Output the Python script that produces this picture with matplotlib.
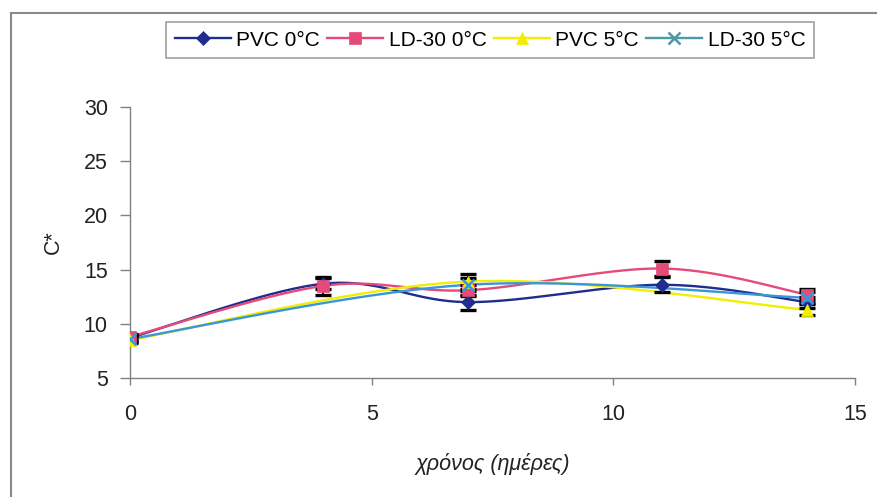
import numpy as np
import matplotlib
matplotlib.use("Agg")
import matplotlib.pyplot as plt
from matplotlib.lines import Line2D

# ---- data ----
days_a = [0, 4, 7, 11, 14]
days_b = [0, 7, 14]
pvc0 = [8.7, 13.7, 12.0, 13.6, 12.0]
pvc0_err = [0.3, 0.5, 0.7, 0.7, 0.5]
ld0 = [8.8, 13.5, 13.1, 15.1, 12.7]
ld0_err = [0.3, 0.8, 0.5, 0.7, 0.5]
pvc5 = [8.5, 13.9, 11.3]
pvc5_err = [0.3, 0.7, 0.5]
ld5 = [8.6, 13.6, 12.4]
ld5_err = [0.3, 0.6, 0.5]
labels = ["PVC 0\u00b0C", "LD-30 0\u00b0C", "PVC 5\u00b0C", "LD-30 5\u00b0C"]
xticks = [0, 5, 10, 15]
yticks = [5, 10, 15, 20, 25, 30]

plt.rcParams['font.family'] = ['Liberation Sans', 'DejaVu Sans']


def smooth(x, y, n=40):
    """Excel-style smoothed line (Bezier through the points)."""
    x = np.asarray(x, float); y = np.asarray(y, float)
    P = np.column_stack([x, y])
    out = []
    for i in range(len(P) - 1):
        p0 = P[i - 1] if i > 0 else P[i]
        p1 = P[i]; p2 = P[i + 1]
        p3 = P[i + 2] if i + 2 < len(P) else P[i + 1]
        c1 = p1 + (p2 - p0) / 6.0
        c2 = p2 - (p3 - p1) / 6.0
        t = np.linspace(0, 1, n)[:, None]
        seg = ((1 - t) ** 3) * p1 + 3 * ((1 - t) ** 2) * t * c1 + 3 * (1 - t) * t ** 2 * c2 + t ** 3 * p2
        out.append(seg if i == 0 else seg[1:])
    s = np.vstack(out)
    return s[:, 0], s[:, 1]


fig = plt.figure(figsize=(8.77, 4.97), dpi=100)
ax = fig.add_axes([130 / 877, 1 - 378 / 497, (855 - 130) / 877, (378 - 107) / 497])

series = [
    (days_a, pvc0, pvc0_err, '#1f2d8c', 'D', 7),
    (days_a, ld0, ld0_err, '#e64a7b', 's', 8.5),
    (days_b, pvc5, pvc5_err, '#f2ee00', '^', 9),
    (days_b, ld5, ld5_err, '#3a96d8', 'x', 9),
]
handles = []
for (x, y, e, c, m, ms), lab in zip(series, labels):
    sx, sy = smooth(x, y)
    ax.plot(sx, sy, color=c, lw=1.7, zorder=2)
    ax.errorbar(x, y, yerr=e, fmt='none', ecolor='black', elinewidth=1.2,
                capsize=5.5, capthick=2.4, zorder=3)
    mew = 1.8 if m == 'x' else 0.5
    ax.plot(x, y, linestyle='none', marker=m, color=c, markersize=ms,
            markeredgewidth=mew, zorder=4)
    lc = '#4a9aa8' if m == 'x' else c
    handles.append(Line2D([], [], color=lc, lw=1.7, marker=m, markersize=ms,
                          markeredgewidth=mew))

ax.set_xlim(0, 15)
ax.set_ylim(5, 30)
ax.set_xticks(xticks)
ax.set_yticks(yticks)
for s in ['top', 'right']:
    ax.spines[s].set_visible(False)
for s in ['left', 'bottom']:
    ax.spines[s].set_color('#808080')
    ax.spines[s].set_linewidth(1.0)
ax.tick_params(axis='y', direction='out', length=7, width=1, color='#808080',
               pad=9, labelsize=15.5, labelcolor='#222222')
ax.tick_params(axis='x', direction='out', length=5, width=1, color='#808080',
               pad=14, labelsize=15.5, labelcolor='#222222')
ax.set_ylabel('C*', fontsize=15.5, color='#222222', labelpad=14)
ax.set_xlabel('\u03c7\u03c1\u03cc\u03bd\u03bf\u03c2 (\u03b7\u03bc\u03ad\u03c1\u03b5\u03c2)',
              fontsize=15.5, style='italic', color='#222222', labelpad=20)

leg = fig.legend(handles, labels, ncol=4, loc='center',
                 bbox_to_anchor=((165 + 815) / 2 / 877, 1 - 40 / 497),
                 fontsize=15, frameon=True, fancybox=False, handlelength=2.7,
                 handletextpad=0.25, columnspacing=0.35, borderpad=0.4,
                 borderaxespad=0.2)
leg.get_frame().set_edgecolor('#888888')
leg.get_frame().set_linewidth(1.2)

# outer frame lines
fig.add_artist(Line2D([11 / 877, 1.0], [1 - 13 / 497, 1 - 13 / 497],
                      transform=fig.transFigure, color='#8a8a8a', lw=1.5))
fig.add_artist(Line2D([11 / 877, 11 / 877], [0, 1 - 13 / 497],
                      transform=fig.transFigure, color='#8a8a8a', lw=1.5))

fig.savefig('out.png', dpi=100, facecolor='white')
